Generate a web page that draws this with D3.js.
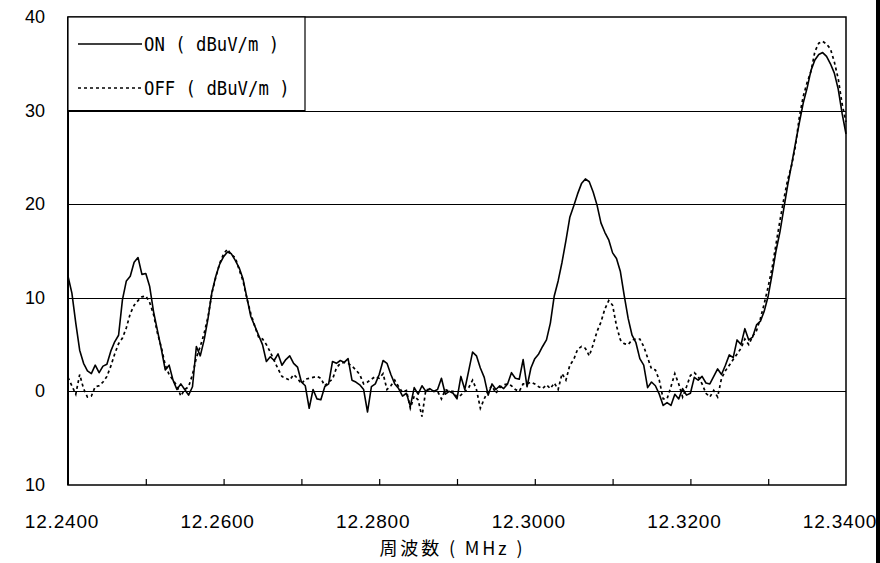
<!DOCTYPE html>
<html>
<head>
<meta charset="utf-8">
<script src="https://cdn.jsdelivr.net/npm/d3@7"></script>
<style>
  html, body { margin: 0; padding: 0; background: #fff; }
  svg { display: block; }
</style>
</head>
<body>
<div id="chart"></div>
<script>
// sweep 12.2400 -> 12.3400 MHz, one reading every 0.0005 MHz
const freqStart = 12.24;
const freqStep = 0.0005;

const onValues = [
  12.3, 10.5, 7.3, 4.4, 3.0, 2.2, 1.9, 2.8, 2.0, 2.7,
  2.9, 4.3, 5.3, 6.0, 9.8, 11.8, 12.3, 13.8, 14.3, 12.5,
  12.6, 11.2, 8.5, 6.5, 4.5, 2.3, 2.8, 1.2, 0.2, 0.8,
  0.2, -0.4, 0.5, 4.8, 3.8, 5.5, 7.8, 10.6, 12.3, 13.6,
  14.4, 14.9, 14.7, 14.0, 13.2, 12.0, 10.0, 8.0, 7.0, 6.0,
  5.0, 3.2, 3.7, 3.3, 4.0, 2.8, 3.4, 3.8, 3.0, 2.6,
  1.0, 0.6, -1.8, 0.2, -0.8, -0.9, 0.5, 0.8, 3.2, 3.0,
  3.3, 3.1, 3.5, 1.2, 1.0, 0.7, 0.2, -2.2, 0.5, 0.8,
  1.8, 3.3, 3.0, 1.8, 0.8, 0.3, -0.5, -0.2, -1.6, 0.4,
  -0.3, 0.6, 0.0, 0.3, 0.0, 0.2, 1.4, -0.3, 0.0, -0.2,
  -0.8, 1.6, 0.2, 2.2, 4.2, 3.8, 2.5, 1.5, -0.4, 0.8,
  0.2, 0.6, 0.3, 0.8, 2.0, 1.4, 1.3, 3.4, 0.5, 2.5,
  3.5, 4.0, 4.8, 5.5, 7.3, 10.2, 11.8, 13.8, 16.1, 18.6,
  19.8, 21.1, 22.2, 22.7, 22.4, 21.3, 19.9, 18.0, 17.0, 16.2,
  14.8, 14.2, 12.8, 10.2, 7.8, 6.0, 5.2, 3.5, 2.8, 0.4,
  1.0, 0.6, -0.3, -1.5, -1.2, -1.5, -0.3, -0.8, 0.3, -0.4,
  -0.2, 1.5, 1.2, 1.6, 0.9, 0.8, 1.6, 2.4, 1.8, 2.8,
  3.9, 3.6, 5.5, 5.0, 6.7, 5.5, 5.8, 7.1, 7.5, 8.6,
  10.2, 12.5, 15.0, 17.0, 19.5, 22.0, 24.2, 26.5, 28.7, 30.8,
  32.4, 34.3, 35.4, 36.0, 36.2, 35.8, 35.0, 34.0, 32.3, 29.7,
  27.5
];

const offValues = [
  1.5, 0.6, -0.3, 1.8, 0.3, -0.6, -0.5, 0.5, 0.6, 1.0,
  1.6, 2.7, 4.0, 5.1, 5.7, 6.8, 8.3, 9.2, 9.7, 10.1,
  10.2, 9.5, 8.2, 6.2, 4.7, 2.8, 1.8, 1.2, 0.6, -0.5,
  0.2, 0.5, 1.8, 3.6, 4.8, 6.2, 8.0, 10.5, 12.2, 13.7,
  14.7, 15.2, 14.6, 14.3, 13.0, 11.8, 9.9, 8.3, 7.0, 5.8,
  5.6, 5.0, 4.2, 3.3, 2.4, 1.6, 1.4, 1.2, 1.8, 1.4,
  0.8, 1.3, 1.4, 1.5, 1.6, 1.4, 0.6, 1.0, 1.3, 2.5,
  3.0, 3.1, 3.0, 2.7, 2.3, 1.8, 0.8, 1.0, 1.3, 1.6,
  1.4, 1.9, 0.2, 0.6, 1.2, 0.5, -0.1, 0.1, -1.8, -0.5,
  -0.9, -2.7, 0.2, 0.2, 0.0, 0.0, -0.8, 0.2, 0.0, 0.0,
  -0.6, -0.4, 0.0, 0.4, 1.2, 0.2, -1.8, -0.8, 0.1, 0.6,
  -0.2, 0.4, 0.7, 0.8, 0.6, 0.2, 0.0, 0.8, 0.8, 1.0,
  0.8, 0.5, 0.3, 0.7, 0.3, 0.9, 0.2, 1.9, 1.2, 2.8,
  3.4, 4.5, 4.8, 4.6, 3.8, 5.0, 6.4, 7.4, 8.8, 9.7,
  9.2, 7.0, 5.5, 5.1, 5.0, 5.5, 5.6, 5.6, 4.8, 3.6,
  2.4, 2.3, 1.2, -0.8, -0.8, 0.5, 1.9, 0.8, -0.6, 0.5,
  1.7, 2.0, 1.6, 0.8, -0.2, -0.6, 0.1, -0.6, 1.4, 2.2,
  2.8, 3.4, 4.0, 4.6, 5.6, 5.0, 5.9, 6.5, 7.8, 9.4,
  11.2, 13.2, 15.7, 18.2, 20.5, 22.6, 24.1, 26.2, 29.3, 31.5,
  33.0, 34.2, 36.3, 37.2, 37.4, 37.1, 36.6, 35.2, 33.4, 30.7,
  28.8
];

const xTickValues = [12.24, 12.26, 12.28, 12.30, 12.32, 12.34];
const xTickLabels = ['12.2400', '12.2600', '12.2800', '12.3000', '12.3200', '12.3400'];
const xMinorTicks = [12.25, 12.26, 12.27, 12.28, 12.29, 12.30, 12.31, 12.32, 12.33];
const yTickValues = [40, 30, 20, 10, 0, -10];
const yTickLabels = ['40', '30', '20', '10', '0', '10'];   // bottom label is printed without a minus in the original
const gridValues = [30, 20, 10, 0];
const seriesNames = ['ON ( dBuV/m )', 'OFF ( dBuV/m )'];
const xTitle = '周波数 ( MHz )';

const W = 880, H = 563;
const plot = { left: 68, right: 846, top: 17, bottom: 485 };

const svg = d3.select('#chart').append('svg')
  .attr('width', W).attr('height', H);

const x = d3.scaleLinear().domain([12.24, 12.34]).range([plot.left, plot.right]);
const y = d3.scaleLinear().domain([-10, 40]).range([plot.bottom, plot.top]);

// grid
svg.append('g')
  .selectAll('line')
  .data(gridValues)
  .enter().append('line')
  .attr('x1', plot.left).attr('x2', plot.right)
  .attr('y1', d => Math.round(y(d)) + 0.5).attr('y2', d => Math.round(y(d)) + 0.5)
  .attr('stroke', '#000').attr('stroke-width', 1.2);

// x axis: small ticks pointing up inside the frame, labels every 0.02
const xAxis = d3.axisBottom(x)
  .tickValues(xMinorTicks)
  .tickSizeInner(-6)
  .tickSizeOuter(0)
  .tickFormat('');
svg.append('g')
  .attr('transform', `translate(0,${plot.bottom})`)
  .call(xAxis)
  .call(g => g.select('.domain').remove())
  .selectAll('line').attr('stroke', '#000').attr('stroke-width', 1.2);

svg.append('g')
  .selectAll('text')
  .data(xTickValues)
  .enter().append('text')
  .attr('x', d => x(d) - 6)
  .attr('y', 528)
  .attr('text-anchor', 'middle')
  .attr('font-family', 'Liberation Sans, Arial, sans-serif')
  .attr('font-size', 19)
  .attr('letter-spacing', 0.8)
  .text((d, i) => xTickLabels[i]);

// y labels (no tick marks)
svg.append('g')
  .selectAll('text')
  .data(yTickValues)
  .enter().append('text')
  .attr('x', 45)
  .attr('y', d => y(d) + 6)
  .attr('text-anchor', 'end')
  .attr('font-family', 'Liberation Sans, Arial, sans-serif')
  .attr('font-size', 18)
  .text((d, i) => yTickLabels[i]);

// series
const line = d3.line()
  .x((d, i) => x(freqStart + i * freqStep))
  .y(d => y(d));

svg.append('path')
  .datum(offValues)
  .attr('fill', 'none')
  .attr('stroke', '#000')
  .attr('stroke-width', 1.7)
  .attr('stroke-dasharray', '3,3')
  .attr('d', line);

svg.append('path')
  .datum(onValues)
  .attr('fill', 'none')
  .attr('stroke', '#000')
  .attr('stroke-width', 1.6)
  .attr('stroke-linejoin', 'round')
  .attr('d', line);

// frame
svg.append('rect')
  .attr('x', plot.left).attr('y', plot.top)
  .attr('width', plot.right - plot.left).attr('height', plot.bottom - plot.top)
  .attr('fill', 'none').attr('stroke', '#000').attr('stroke-width', 1.5);
svg.append('line')
  .attr('x1', plot.left).attr('x2', plot.left)
  .attr('y1', plot.top).attr('y2', plot.bottom)
  .attr('stroke', '#000').attr('stroke-width', 2);

// legend
const legend = svg.append('g');
legend.append('rect')
  .attr('x', plot.left).attr('y', plot.top)
  .attr('width', 237).attr('height', y(30) - plot.top)
  .attr('fill', '#fff').attr('stroke', '#000').attr('stroke-width', 1.2);

const legendRows = legend.selectAll('g.row')
  .data(seriesNames)
  .enter().append('g')
  .attr('class', 'row')
  .attr('transform', (d, i) => `translate(78,${44 + i * 44})`);

legendRows.append('line')
  .attr('x1', 0).attr('x2', 64)
  .attr('stroke', '#000')
  .attr('stroke-width', 1.6)
  .attr('stroke-dasharray', (d, i) => i === 0 ? null : '3,3');

legendRows.append('text')
  .attr('x', 66)
  .attr('y', 7)
  .attr('font-family', 'DejaVu Sans Mono, monospace')
  .attr('font-size', 20)
  .attr('textLength', d => d.length * 10.4)
  .attr('lengthAdjust', 'spacingAndGlyphs')
  .text(d => d);

// axis title
svg.append('text')
  .attr('x', 451)
  .attr('y', 555)
  .attr('text-anchor', 'middle')
  .attr('font-family', 'Noto Sans CJK JP, sans-serif')
  .attr('font-size', 18)
  .attr('textLength', 143)
  .attr('lengthAdjust', 'spacing')
  .text(xTitle);

// black strip at the right edge of the picture
svg.append('rect')
  .attr('x', 876).attr('y', 0)
  .attr('width', 4).attr('height', H)
  .attr('fill', '#000');
</script>
</body>
</html>
